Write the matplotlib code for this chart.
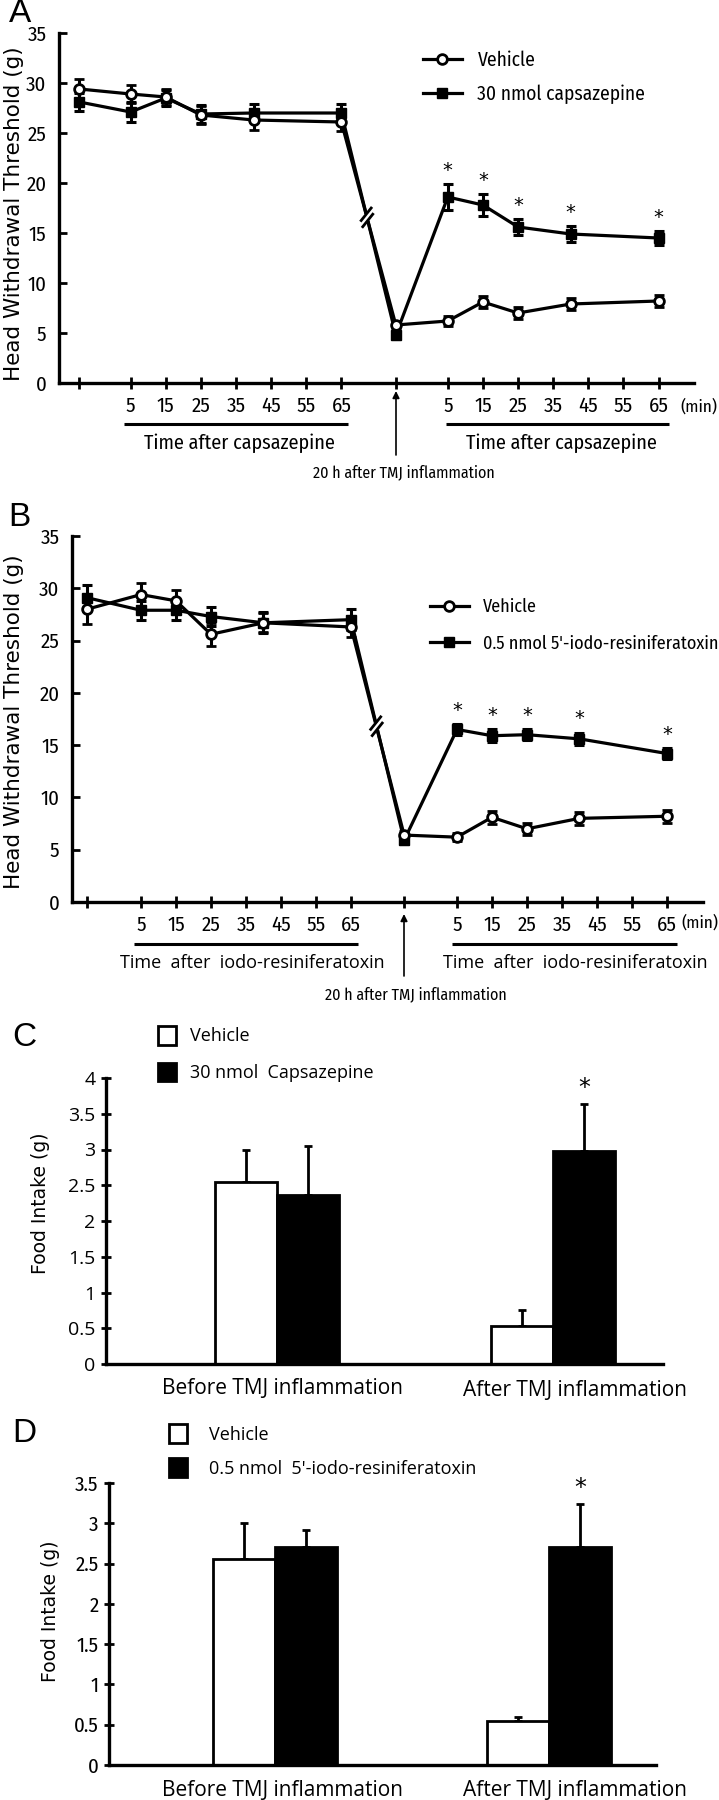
import matplotlib
matplotlib.use('Agg')
import matplotlib.pyplot as plt
from matplotlib.lines import Line2D
from matplotlib.patches import Patch, FancyArrowPatch
import numpy as np
import logging
logging.getLogger('matplotlib.font_manager').setLevel(logging.ERROR)

# ---------------- fonts ----------------
NARROW = ['Fira Sans Condensed', 'PT Sans Narrow', 'DejaVu Sans']
REG = ['Open Sans', 'DejaVu Sans']
plt.rcParams['font.family'] = REG

# ---------------- data ----------------
min_ticks = [5, 15, 25, 35, 45, 55, 65]          # tick labels (min)
sample_pre = [5, 15, 25, 40, 65]                  # sampled minutes after drug (before inflammation)
sample_post = [5, 15, 25, 40, 65]                 # sampled minutes after drug (20 h after TMJ inflammation)

# Panel A : capsazepine
a_veh_mean = [29.4, 28.9, 28.6, 26.8, 26.3, 26.1, 5.8, 6.2, 8.1, 7.0, 7.9, 8.2]
a_veh_err = [1.0, 0.9, 0.8, 0.9, 1.0, 0.9, 0.4, 0.5, 0.6, 0.6, 0.6, 0.6]
a_drug_mean = [28.1, 27.1, 28.5, 26.9, 27.0, 27.0, 4.8, 18.6, 17.8, 15.6, 14.9, 14.5]
a_drug_err = [0.9, 1.0, 0.8, 0.9, 0.9, 0.9, 0.4, 1.3, 1.1, 0.8, 0.8, 0.7]
a_labels = ['Vehicle', '30 nmol capsazepine']

# Panel B : 5'-iodo-resiniferatoxin
b_veh_mean = [28.0, 29.4, 28.8, 25.6, 26.7, 26.3, 6.4, 6.2, 8.1, 7.0, 8.0, 8.2]
b_veh_err = [1.4, 1.1, 1.0, 1.1, 0.9, 1.0, 0.4, 0.4, 0.6, 0.6, 0.6, 0.6]
b_drug_mean = [29.1, 27.9, 27.9, 27.3, 26.7, 27.0, 5.9, 16.5, 15.9, 16.0, 15.6, 14.2]
b_drug_err = [1.2, 0.9, 0.9, 0.9, 1.0, 1.0, 0.4, 0.5, 0.6, 0.5, 0.6, 0.5]
b_labels = ['Vehicle', "0.5 nmol 5'-iodo-resiniferatoxin"]

sig_idx = [7, 8, 9, 10, 11]   # points marked with *

# Panels C, D : food intake
groups = ['Before TMJ inflammation', 'After TMJ inflammation']
c_veh = [2.55, 0.53]
c_veh_err = [0.45, 0.23]
c_drug = [2.37, 2.98]
c_drug_err = [0.68, 0.66]
c_labels = ['Vehicle', '30 nmol  Capsazepine']

d_veh = [2.56, 0.54]
d_veh_err = [0.44, 0.06]
d_drug = [2.70, 2.70]
d_drug_err = [0.22, 0.54]
d_labels = ['Vehicle', "0.5 nmol  5'-iodo-resiniferatoxin"]

# ---------------- figure ----------------
W, H = 719, 1800
fig = plt.figure(figsize=(W / 100, H / 100), dpi=100)


def axes_px(l, t, r, b):
    return fig.add_axes([l / W, 1 - b / H, (r - l) / W, (b - t) / H])


def fx(x):
    return x / W


def fy(y):
    return 1 - y / H


def fig_line(x0, y0, x1, y1, lw=2.2):
    fig.add_artist(Line2D([fx(x0), fx(x1)], [fy(y0), fy(y1)], transform=fig.transFigure,
                          color='black', lw=lw, solid_capstyle='butt'))


def fig_arrow(x, y0, y1):
    fig.add_artist(FancyArrowPatch((fx(x), fy(y0)), (fx(x), fy(y1)),
                   transform=fig.transFigure, arrowstyle='-|>', mutation_scale=10,
                   color='black', lw=1.2, shrinkA=0, shrinkB=0))


def line_panel(ax, veh_m, veh_e, drug_m, drug_e, labels, pre0, arrow, post0, xlim,
               leg_xy, leg_fs, leg_sp, break_t):
    xs = [0.0] + [pre0 + (t - 5) / 10 for t in sample_pre] + [arrow] + \
         [post0 + (t - 5) / 10 for t in sample_post]
    xs = np.array(xs)
    lw = 2.3
    ax.errorbar(xs, drug_m, yerr=drug_e, color='black', lw=lw, marker='s', ms=7.5,
                mfc='black', mec='black', elinewidth=2.2, capsize=3.5, capthick=2.2, zorder=3)
    ax.errorbar(xs, veh_m, yerr=veh_e, color='black', lw=lw, marker='o', ms=7,
                mfc='white', mec='black', mew=2, elinewidth=2.2, capsize=3.5, capthick=2.2, zorder=4)
    for i in sig_idx:
        ax.text(xs[i], drug_m[i] + drug_e[i] + 0.4, '*', ha='center', va='bottom',
                fontsize=14, family=['DejaVu Sans'])
    ax.set_xlim(*xlim)
    ax.set_ylim(0, 35)
    ax.set_yticks(range(0, 36, 5))
    ax.set_yticklabels([str(v) for v in range(0, 36, 5)], family=NARROW, fontsize=15)
    ticks = [0.0] + [pre0 + (t - 5) / 10 for t in min_ticks] + [arrow] + \
            [post0 + (t - 5) / 10 for t in min_ticks]
    tlabels = [''] + [str(t) for t in min_ticks] + [''] + [str(t) for t in min_ticks]
    ax.set_xticks(ticks)
    ax.set_xticklabels(tlabels, family=NARROW, fontsize=15)
    ax.tick_params(axis='x', direction='inout', length=9, width=2, pad=5)
    ax.tick_params(axis='y', direction='in', length=6, width=2, pad=9)
    for s in ['top', 'right']:
        ax.spines[s].set_visible(False)
    for s in ['left', 'bottom']:
        ax.spines[s].set_linewidth(2.4)
    # axis break on the segment between the last pre point and the 20 h point
    fig.canvas.draw()
    p0 = ax.transData.transform((xs[5], (veh_m[5] + drug_m[5]) / 2))
    p1 = ax.transData.transform((xs[6], (veh_m[6] + drug_m[6]) / 2))
    c = p0 + break_t * (p1 - p0)
    d = (p1 - p0) / np.linalg.norm(p1 - p0)
    inv = fig.transFigure.inverted()
    gap = 3.2
    a0 = inv.transform(c - d * (gap + 0.5))
    a1 = inv.transform(c + d * (gap + 0.5))
    fig.add_artist(Line2D([a0[0], a1[0]], [a0[1], a1[1]], transform=fig.transFigure,
                          color='white', lw=7, zorder=10, solid_capstyle='butt'))
    for sgn in (-1, 1):
        cc = c + sgn * d * gap
        sv = np.array([8.0, 10.0])
        sv = sv / np.linalg.norm(sv) * 8.0
        q0 = inv.transform(cc - sv)
        q1 = inv.transform(cc + sv)
        fig.add_artist(Line2D([q0[0], q1[0]], [q0[1], q1[1]], transform=fig.transFigure,
                              color='black', lw=2.0, zorder=11))
    handles = [Line2D([], [], color='black', lw=2.3, marker='o', ms=7, mfc='white', mec='black', mew=2),
               Line2D([], [], color='black', lw=2.3, marker='s', ms=7.5, mfc='black')]
    ax.legend(handles, labels, loc='center left', bbox_to_anchor=(fx(leg_xy[0]), fy(leg_xy[1])),
              bbox_transform=fig.transFigure, frameon=False, borderpad=0, borderaxespad=0,
              handlelength=2.0 * 14 / leg_fs, handletextpad=0.8, labelspacing=leg_sp,
              prop={'family': NARROW, 'size': leg_fs})


def bar_panel(ax, veh, veh_e, drug, drug_e, labels, xlim, ylim, yticks, leg_xy, leg_sp,
              leg_pad, tick_family, tick_fs):
    w = 0.225
    xs = np.arange(1, len(groups) + 1)
    ax.bar(xs - w / 2, veh, w, color='white', edgecolor='black', lw=2, zorder=2)
    ax.bar(xs + w / 2, drug, w, color='black', edgecolor='black', lw=2, zorder=2)
    for x, m, e in zip(xs - w / 2, veh, veh_e):
        ax.errorbar([x], [m + e / 2], yerr=[[e / 2], [e / 2]], color='black', lw=0,
                    elinewidth=2, capsize=3, capthick=2, zorder=1)
    for x, m, e in zip(xs + w / 2, drug, drug_e):
        ax.errorbar([x], [m + e / 2], yerr=[[e / 2], [e / 2]], color='black', lw=0,
                    elinewidth=2, capsize=3, capthick=2, zorder=1)
    ax.text(xs[1] + w / 2, drug[1] + drug_e[1] + 0.05, '*', ha='center', va='bottom',
            fontsize=17, family=['DejaVu Sans'])
    ax.set_xlim(*xlim)
    ax.set_ylim(*ylim)
    ax.set_yticks(yticks)
    ax.set_yticklabels(['%g' % v for v in yticks], family=tick_family, fontsize=tick_fs)
    ax.set_xticks([])
    ax.tick_params(axis='y', direction='inout', length=7, width=2, pad=4)
    for s in ['top', 'right']:
        ax.spines[s].set_visible(False)
    for s in ['left', 'bottom']:
        ax.spines[s].set_linewidth(2.4)
    handles = [Patch(facecolor='white', edgecolor='black', lw=2),
               Patch(facecolor='black', edgecolor='black', lw=2)]
    ax.legend(handles, labels, loc='center left', bbox_to_anchor=(fx(leg_xy[0]), fy(leg_xy[1])),
              bbox_transform=fig.transFigure, frameon=False, borderpad=0, borderaxespad=0,
              handlelength=1.0, handleheight=1.2, handletextpad=leg_pad, labelspacing=leg_sp,
              prop={'family': REG, 'size': 13})


# ---------------- Panel A ----------------
axA = axes_px(59, 33, 694, 383)
line_panel(axA, a_veh_mean, a_veh_err, a_drug_mean, a_drug_err, a_labels,
           pre0=1.46, arrow=9.01, post0=10.49, xlim=(-0.58, 17.5),
           leg_xy=(423, 77), leg_fs=14, leg_sp=0.75, break_t=0.47)
fig.text(fx(9), fy(14), 'A', fontsize=24, family=['Liberation Sans', 'DejaVu Sans'], va='center')
fig.text(fx(14), fy(214), 'Head Withdrawal Threshold (g)', rotation=90, fontsize=15.5,
         family=['DejaVu Sans'], ha='center', va='center')
fig.text(fx(717), fy(407), '(min)', family=NARROW, fontsize=12.5, va='center', ha='right')
fig_line(124, 424, 348, 424)
fig_line(446, 424, 669, 424)
fig.text(fx(239), fy(443), 'Time after capsazepine', family=NARROW, fontsize=14.5, ha='center', va='center')
fig.text(fx(561), fy(443), 'Time after capsazepine', family=NARROW, fontsize=14.5, ha='center', va='center')
fig_arrow(396, 455, 391)
fig.text(fx(404), fy(473), '20 h after TMJ inflammation', family=NARROW, fontsize=11.5,
         ha='center', va='center')

# ---------------- Panel B ----------------
axB = axes_px(72, 536, 703, 902)
line_panel(axB, b_veh_mean, b_veh_err, b_drug_mean, b_drug_err, b_labels,
           pre0=1.54, arrow=9.06, post0=10.57, xlim=(-0.43, 17.6),
           leg_xy=(430, 625), leg_fs=13, leg_sp=1.05, break_t=0.48)
fig.text(fx(8), fy(518), 'B', fontsize=24, family=['Liberation Sans', 'DejaVu Sans'], va='center')
fig.text(fx(14), fy(722), 'Head Withdrawal Threshold (g)', rotation=90, fontsize=15.5,
         family=['DejaVu Sans'], ha='center', va='center')
fig.text(fx(718), fy(923), '(min)', family=NARROW, fontsize=12.5, va='center', ha='right')
fig_line(134, 944, 358, 944)
fig_line(452, 944, 677, 944)
fig.text(fx(252), fy(963), 'Time  after  iodo-resiniferatoxin', fontsize=13,
         ha='center', va='center')
fig.text(fx(575), fy(963), 'Time  after  iodo-resiniferatoxin', fontsize=13,
         ha='center', va='center')
fig_arrow(404, 976, 914)
fig.text(fx(416), fy(995), '20 h after TMJ inflammation', family=NARROW, fontsize=11.5,
         ha='center', va='center')

# ---------------- Panel C ----------------
axC = axes_px(106, 1078, 663, 1364)
bar_panel(axC, c_veh, c_veh_err, c_drug, c_drug_err, c_labels,
          xlim=(0.380, 2.399), ylim=(0, 4), yticks=[0, 0.5, 1, 1.5, 2, 2.5, 3, 3.5, 4],
          leg_xy=(158, 1054), leg_sp=0.95, leg_pad=0.8, tick_family=REG, tick_fs=14)
fig.text(fx(12), fy(1037), 'C', fontsize=24, family=['Liberation Sans', 'DejaVu Sans'], va='center')
fig.text(fx(40), fy(1203), 'Food Intake (g)', rotation=90, fontsize=13.5, family=['DejaVu Sans'],
         ha='center', va='center')
fig.text(fx(282), fy(1388), groups[0], fontsize=15, ha='center', va='center')
fig.text(fx(575), fy(1390), groups[1], fontsize=15, ha='center', va='center')

# ---------------- Panel D ----------------
axD = axes_px(109, 1483, 656, 1765)
bar_panel(axD, d_veh, d_veh_err, d_drug, d_drug_err, d_labels,
          xlim=(0.394, 2.39), ylim=(0, 3.5), yticks=[0, 0.5, 1, 1.5, 2, 2.5, 3, 3.5],
          leg_xy=(169, 1451), leg_sp=0.8, leg_pad=1.2, tick_family=NARROW, tick_fs=15)
fig.text(fx(12), fy(1433), 'D', fontsize=24, family=['Liberation Sans', 'DejaVu Sans'], va='center')
fig.text(fx(50), fy(1611), 'Food Intake (g)', rotation=90, fontsize=13.5, family=['DejaVu Sans'],
         ha='center', va='center')
fig.text(fx(282), fy(1790), groups[0], fontsize=15, ha='center', va='center')
fig.text(fx(575), fy(1791), groups[1], fontsize=15, ha='center', va='center')

fig.savefig('out.png', dpi=100)
